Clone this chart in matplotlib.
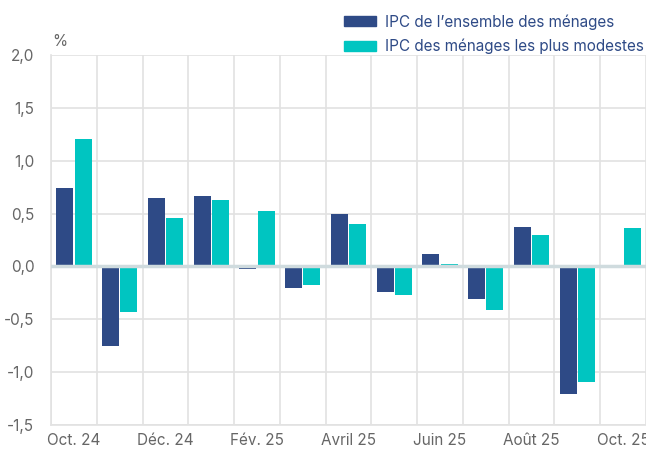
import numpy as np
import matplotlib.pyplot as plt
from matplotlib.patches import Patch

months = ['Oct. 24', 'Nov. 24', 'Déc. 24', 'Janv. 25', 'Fév. 25', 'Mars 25', 'Avril 25',
          'Mai 25', 'Juin 25', 'Juil. 25', 'Août 25', 'Sept. 25', 'Oct. 25']
ipc_ensemble = [0.74, -0.75, 0.65, 0.67, -0.02, -0.20, 0.50, -0.24, 0.12, -0.31, 0.37, -1.21, np.nan]
ipc_modestes = [1.21, -0.43, 0.455, 0.625, 0.52, -0.18, 0.40, -0.27, 0.02, -0.41, 0.30, -1.09, 0.36]
yticks = [-1.5, -1.0, -0.5, 0.0, 0.5, 1.0, 1.5, 2.0]

dark = '#2e4a86'
teal = '#00c5c1'
grid_c = '#e2e2e2'
txt_c = '#666666'

plt.rcParams['font.family'] = ['Inter', 'DejaVu Sans']

fig = plt.figure(figsize=(6.46, 4.53), dpi=100)
ax = fig.add_axes([51 / 646, 1 - 425 / 453, 1 - 51 / 646, (425 - 55) / 453])

x = np.arange(len(months))
w = 0.37
ax.bar(x - 0.2, ipc_ensemble, w, color=dark, zorder=3)
ax.bar(x + 0.2, ipc_modestes, w, color=teal, zorder=3)
ax.axhline(0, color='#cfdbde', lw=2.5, zorder=4)

ax.set_xlim(-0.5, len(months) - 0.57)
ax.set_ylim(-1.5, 2.0)
ax.set_yticks(yticks)
ax.set_yticklabels([f'{v:.1f}'.replace('.', ',') for v in yticks])
ax.set_xticks(x[::2])
ax.set_xticklabels(months[::2])
ax.set_xticks(np.arange(-0.5, len(months), 1), minor=True)
ax.grid(True, axis='y', color=grid_c, lw=1.2, zorder=0)
ax.grid(True, axis='x', which='minor', color=grid_c, lw=1.2, zorder=0)
ax.tick_params(which='both', length=0, labelsize=11, labelcolor=txt_c)
ax.tick_params(axis='y', pad=12)
ax.tick_params(axis='x', pad=6)
for s in ['top', 'right']:
    ax.spines[s].set_visible(False)
ax.spines['left'].set_color(grid_c)
ax.spines['bottom'].set_color(grid_c)
ax.spines['left'].set_linewidth(1.2)
ax.spines['bottom'].set_linewidth(1.2)

fig.text(52 / 646, 1 - 42 / 453, '%', fontsize=11, color=txt_c, va='center')

handles = [Patch(color=dark), Patch(color=teal)]
fig.legend(handles, ['IPC de l\u2019ensemble des ménages', 'IPC des ménages les plus modestes'],
           loc='upper left', bbox_to_anchor=(338 / 646, 1 - 8 / 453), frameon=False,
           fontsize=11, labelcolor=dark, handlelength=2.1, handleheight=0.6,
           handletextpad=0.55, labelspacing=0.6, borderaxespad=0)

fig.savefig('out.png', dpi=100)
